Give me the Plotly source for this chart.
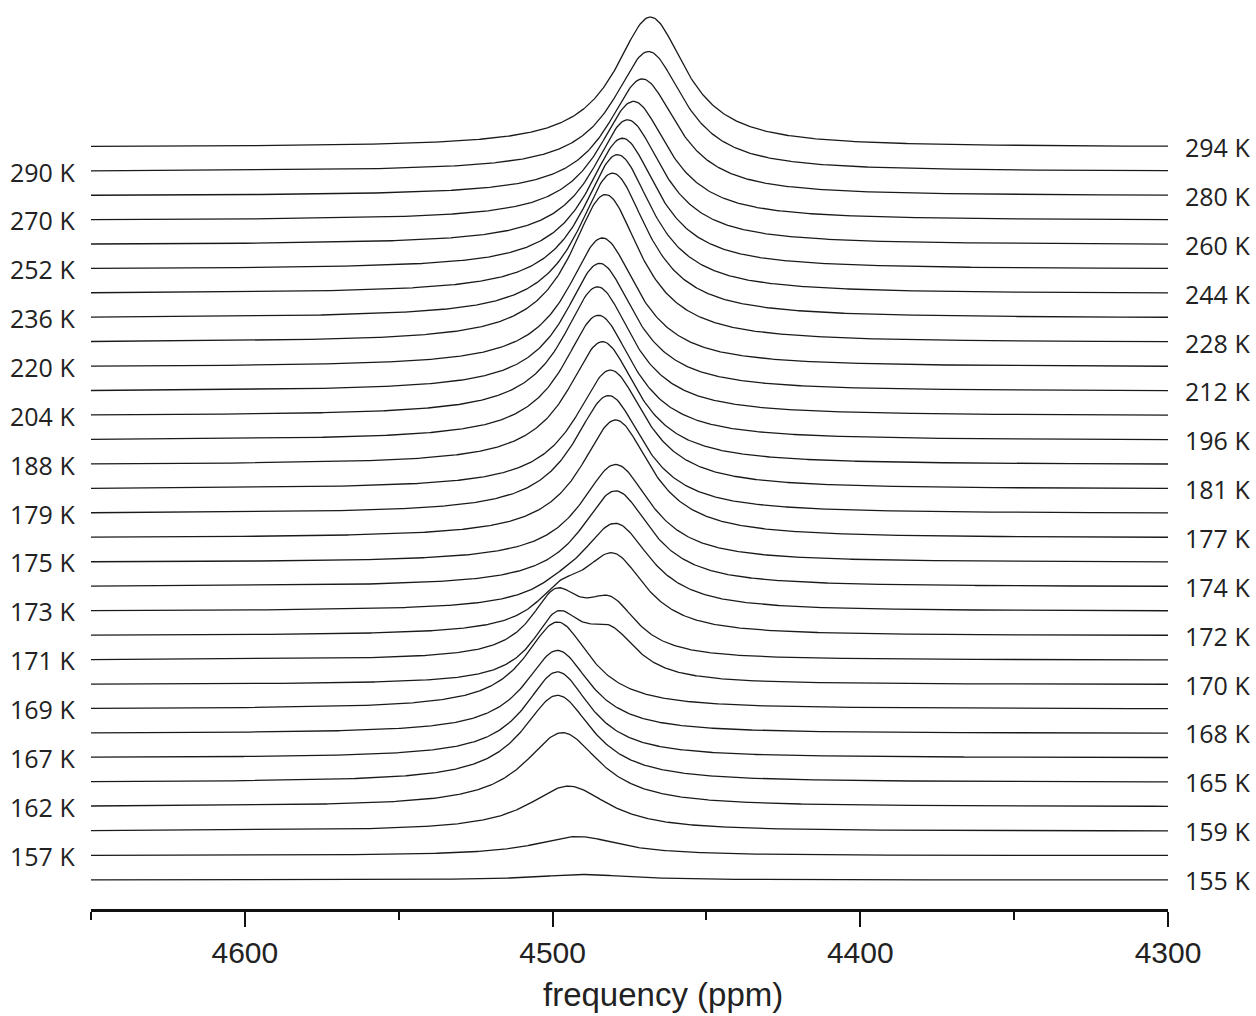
import numpy as np
import plotly.graph_objects as go

# Temperatures (K), bottom trace to top trace
temps = [155, 157, 159, 162, 165, 167, 168, 169, 170, 171, 172, 173, 174, 175, 177,
         179, 181, 188, 196, 204, 212, 220, 228, 236, 244, 252, 260, 270, 280, 290, 294]

# Low-temperature line (A): centre (ppm), height (px-scale intensity), half width (ppm)
a_center = [4490.0, 4491.9, 4494.8, 4496.8, 4498.4, 4498.4, 4498.4, 4498.4, 4498.4, 4499.0,
            4497.4, 4497.0, 4497.0, 4497.0, 4497.0, 4497.0, 4497.0, 4497.0, 4497.0, 4497.0,
            4497.0, 4497.0, 4497.0, 4497.0, 4497.0, 4497.0, 4497.0, 4497.0, 4497.0, 4497.0, 4497.0]
a_height = [5.5, 19, 45, 74, 87, 86, 83, 87, 61, 58,
            28, 8, 0, 0, 0, 0, 0, 0, 0, 0,
            0, 0, 0, 0, 0, 0, 0, 0, 0, 0, 0]
a_width = [18, 17, 16, 15, 14, 13, 13, 13, 10, 10,
           10, 10, 10, 10, 10, 10, 10, 10, 10, 10,
           10, 10, 10, 10, 10, 10, 10, 10, 10, 10, 10]

# High-temperature line (B)
b_center = [4480.0, 4480.0, 4480.0, 4480.0, 4480.0, 4480.0, 4480.0, 4480.0, 4481.2, 4481.2,
            4480.2, 4479.5, 4479.5, 4479.5, 4479.5, 4481.8, 4481.2, 4483.8, 4485.1, 4485.4,
            4484.7, 4483.8, 4482.8, 4480.5, 4478.9, 4477.3, 4475.6, 4473.7, 4470.8, 4468.8, 4468.2]
b_height = [0, 0, 0, 0, 0, 0, 0, 0, 43.6, 50,
            75.7, 86, 96, 98, 118, 118, 119, 123, 125, 129,
            128, 129, 148, 145, 139, 131, 125, 119, 117, 120, 130]
b_width = [14, 14, 14, 14, 14, 14, 14, 14, 11, 11,
           13, 14, 14, 14, 14, 14, 14, 14, 14, 14,
           14, 14, 14, 14, 14, 14, 14, 14, 14, 14, 14]

x_ticks = [4600, 4500, 4400, 4300]
x_minor = [4650, 4550, 4450, 4350]

OFFSET = 24.43
freq = np.arange(4650, 4299.75, -0.5)


def lor(x, c, h, w):
    return h / (1.0 + ((x - c) / w) ** 2)


fig = go.Figure()
for i, t in enumerate(temps):
    y = (i * OFFSET + lor(freq, a_center[i], a_height[i], a_width[i])
         + lor(freq, b_center[i], b_height[i], b_width[i]))
    fig.add_trace(go.Scatter(x=freq, y=y, mode="lines",
                             line=dict(color="#1a1a1a", width=1.3),
                             hoverinfo="skip", showlegend=False))

annotations = []
for i, t in enumerate(temps):
    if i % 2 == 0:
        annotations.append(dict(xref="paper", yref="y", x=1, y=i * OFFSET, text=f"{t} K",
                                xanchor="left", yanchor="middle", xshift=15, showarrow=False,
                                font=dict(family="Open Sans", size=25, color="#222")))
    else:
        annotations.append(dict(xref="paper", yref="y", x=0, y=i * OFFSET, text=f"{t} K",
                                xanchor="right", yanchor="middle", xshift=-14, showarrow=False,
                                font=dict(family="Open Sans", size=25, color="#222")))
annotations.append(dict(xref="paper", yref="paper", x=0.531, y=-0.095, text="frequency (ppm)",
                        xanchor="center", yanchor="middle", showarrow=False,
                        font=dict(family="Liberation Sans, Arial", size=33, color="#222")))

fig.update_layout(
    width=1256, height=1016,
    margin=dict(l=91, r=88, t=5, b=107),
    paper_bgcolor="white", plot_bgcolor="white",
    annotations=annotations,
    xaxis=dict(range=[4650, 4300], showgrid=False, zeroline=False,
               showline=True, linecolor="#111", linewidth=2.5,
               ticks="outside", tickvals=x_ticks, ticklen=15, tickwidth=2, tickcolor="#111",
               minor=dict(tickvals=x_minor, ticks="outside", ticklen=8, tickwidth=2, tickcolor="#111"),
               tickfont=dict(family="Liberation Sans, Arial", size=30, color="#222")),
    yaxis=dict(range=[-29, 875], visible=False, showgrid=False, zeroline=False),
)

fig.write_html("out.html")
